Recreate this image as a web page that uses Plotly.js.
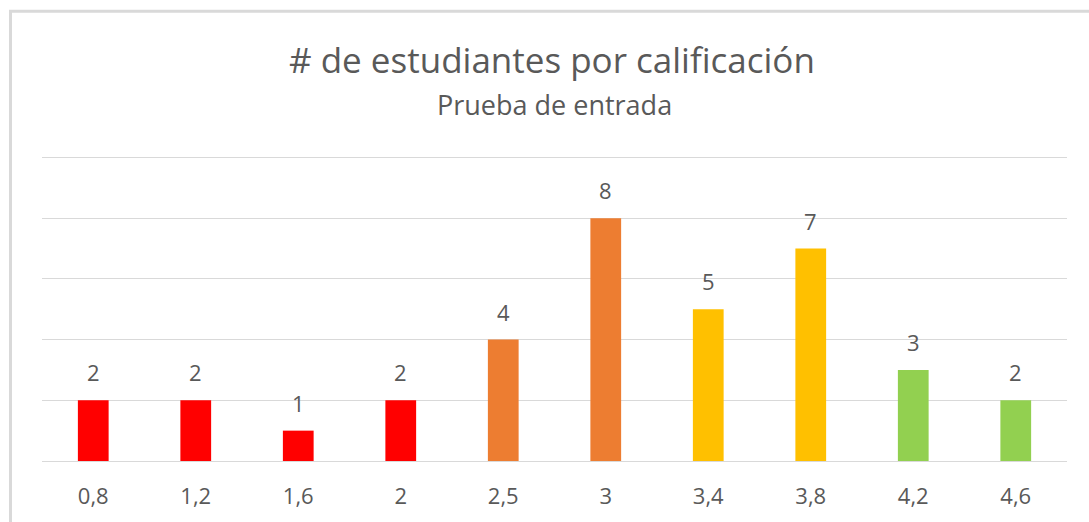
<!DOCTYPE html>
<html>
<head>
<meta charset="utf-8">
<script src="https://cdn.plot.ly/plotly-3.0.1.min.js"></script>
<style>
  html, body { margin: 0; padding: 0; background: #fff; }
  #chart { width: 1089px; height: 522px; }
</style>
</head>
<body>
<div id="chart"></div>
<script>
const categories = ["0,8", "1,2", "1,6", "2", "2,5", "3", "3,4", "3,8", "4,2", "4,6"];
const students = [2, 2, 1, 2, 4, 8, 5, 7, 3, 2];
const barColors = ["#FF0000", "#FF0000", "#FF0000", "#FF0000", "#ED7D31", "#ED7D31", "#FFC000", "#FFC000", "#92D050", "#92D050"];
const gridValues = [0, 2, 4, 6, 8, 10];
const titleText = "# de estudiantes por calificación";
const subtitleText = "Prueba de entrada";

const FONT = "Open Sans, Noto Sans, sans-serif";
const TXT = "#595959";

const trace = {
  type: "bar",
  x: categories,
  y: students,
  marker: { color: barColors, line: { width: 0 } },
  width: 0.30,
  hoverinfo: "skip"
};

// data labels: positioned by category index on the category axis
const labelAnnotations = categories.map((c, i) => ({
  x: i, y: students[i], xref: "x", yref: "y",
  text: String(students[i]),
  showarrow: false, yanchor: "bottom", yshift: 11,
  font: { family: FONT, size: 22, color: TXT }
}));

// plot area: y=0 at 461.5px, y=10 at 158px (30.35 px per unit)
const layout = {
  width: 1089, height: 522,
  margin: { l: 42, r: 22, t: 155, b: 60.5, pad: 0 },
  paper_bgcolor: "#ffffff", plot_bgcolor: "#ffffff",
  showlegend: false,
  xaxis: {
    type: "category",
    showgrid: false, zeroline: false, showline: false,
    ticks: "", ticklabelstandoff: 20,
    tickfont: { family: FONT, size: 22, color: TXT }
  },
  yaxis: {
    range: [0, 10.08], tickvals: gridValues, showticklabels: false,
    showgrid: true, gridcolor: "#D9D9D9", gridwidth: 1,
    zeroline: true, zerolinecolor: "#D9D9D9", zerolinewidth: 1,
    showline: false, ticks: "", fixedrange: true
  },
  annotations: [
    { text: titleText, xref: "paper", yref: "paper", x: 0.498, y: 1.3126,
      xanchor: "center", yanchor: "middle", showarrow: false,
      font: { family: FONT, size: 35, color: TXT } },
    { text: subtitleText, xref: "paper", yref: "paper", x: 0.5, y: 1.1654,
      xanchor: "center", yanchor: "middle", showarrow: false,
      font: { family: FONT, size: 27, color: TXT } }
  ],
  shapes: [
    { type: "path", xref: "paper", yref: "paper",
      path: "M -0.03073 -0.5 L -0.03073 1.4698 L 1.2 1.4698",
      line: { color: "#D9D9D9", width: 3 } }
  ]
};
layout.annotations = layout.annotations.concat(labelAnnotations);

Plotly.newPlot("chart", [trace], layout, { displayModeBar: false, staticPlot: true });
</script>
</body>
</html>
